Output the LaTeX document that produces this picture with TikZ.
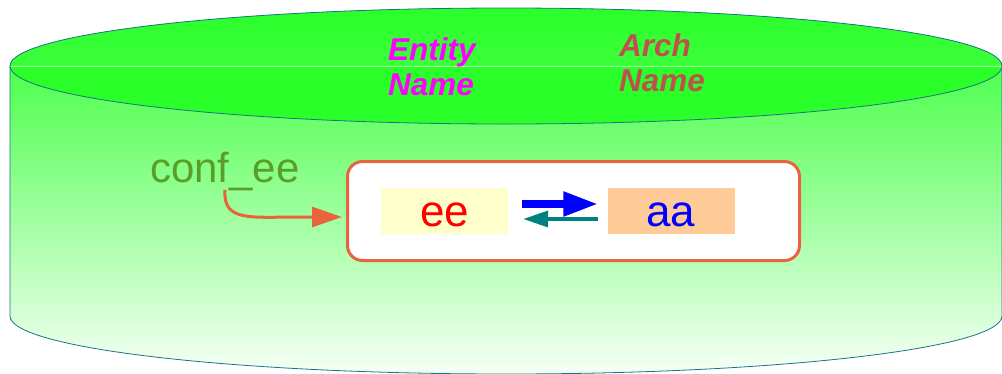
\documentclass[tikz,border=0pt]{standalone}
\usepackage{fontspec}
\setmainfont{Liberation Sans}
\usetikzlibrary{arrows.meta,calc}
\definecolor{rimline}{HTML}{1B7486}
\definecolor{lidgreen}{HTML}{2AFF2A}
\definecolor{lidlight}{HTML}{3CFF3C}
\definecolor{bodytop}{HTML}{4DFF4D}
\definecolor{bodybot}{HTML}{F6FFF6}
\definecolor{panelred}{HTML}{E8633E}
\definecolor{confgreen}{HTML}{5A9E28}
\definecolor{archred}{HTML}{C0504D}
\definecolor{entitymag}{HTML}{FF00FF}
\definecolor{eefill}{HTML}{FFFFCC}
\definecolor{aafill}{HTML}{FFCC99}
\definecolor{tealarrow}{HTML}{008080}
\tikzset{
  label/.style={inner sep=0pt, outer sep=0pt, font=\fontsize{42}{48}\selectfont},
  bigtext/.style={inner sep=0pt, outer sep=0pt, font=\fontsize{44}{50}\selectfont},
  headtext/.style={inner sep=0pt, align=left, font=\fontsize{31.5}{35}\selectfont\bfseries\itshape},
  tag/.style={minimum width=127pt, minimum height=46pt, inner sep=0pt, text depth=0pt},
}
\begin{document}
\begin{tikzpicture}[x=1pt,y=-1pt]
\useasboundingbox (0,0) rectangle (1002,373);
% cylinder body
\shade[top color=bodytop, bottom color=bodybot]
  (10,66) -- (10,316) arc[start angle=180, end angle=0, x radius=496, y radius=58]
  -- (1002,66) -- cycle;
\draw[rimline, line width=0.8pt]
  (10,66) -- (10,316) arc[start angle=180, end angle=0, x radius=496, y radius=58]
  -- (1002,66);
% lid
\fill[lidgreen] (506,66) ellipse[x radius=496, y radius=58];
\shade[top color=lidgreen, bottom color=lidlight]
  (10,66) arc[start angle=180, end angle=360, x radius=496, y radius=58] -- cycle;
\draw[white!60!lidgreen, line width=0.6pt] (10,66) -- (1002,66);
\draw[rimline, line width=0.8pt] (506,66) ellipse[x radius=496, y radius=58];
% header texts
\node[headtext, text=entitymag, anchor=base west] (entity) at (388,95) {Entity\\Name};
\node[headtext, text=archred, anchor=base west] (arch) at (619,91) {Arch\\Name};
% panel and its entries
\node[draw=panelred, fill=white, line width=3pt, rounded corners=15pt,
      minimum width=452pt, minimum height=99pt, inner sep=0pt] (panel) at (573.5,211) {};
\node[tag, fill=eefill] (ee) at (444.5,211) {};
\node[bigtext, text=red, anchor=base] (eetext) at (444.5,226) {ee};
\node[tag, fill=aafill] (aa) at (671,211) {};
\node[bigtext, text=blue, anchor=base] (aatext) at (671,226) {aa};
\draw[blue, line width=8pt, -{Triangle[length=35pt, width=23pt]}]
  ($(ee.east)+(14,-7)$) -- ($(aa.west)+(-9,-7)$);
\draw[tealarrow, line width=3.5pt, -{Triangle[length=25pt, width=16pt]}]
  ($(aa.west)+(-9,8)$) -- ($(ee.east)+(15,8)$);
% configuration label and its pointer
\node[label, text=confgreen, anchor=base west] (conf) at (150,182) {conf\_ee};
\coordinate (confstart) at (225,190);
\coordinate (tip) at (342,217);
\draw[panelred, line width=3pt, -{Triangle[length=30pt, width=20pt]}]
  (confstart) .. controls (223,222) and (250,217) .. (300,217) -- (tip);
\end{tikzpicture}
\end{document}
